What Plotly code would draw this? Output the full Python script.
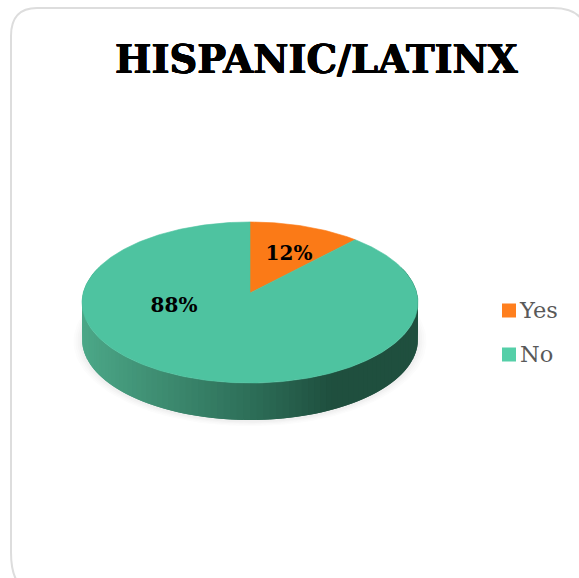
import numpy as np
import plotly.graph_objects as go

# Chart content
title = "HISPANIC/LATINX"
categories = ["Yes", "No"]
values = [12, 88]
labels = ["12%", "88%"]

# Colours
top_colors = ["#FB7A17", "#4EC3A0"]
legend_colors = ["#FF7F1E", "#55CFA8"]
wall_stops_x = [82, 160, 250, 330, 420]
wall_stops_rgb = [(76, 168, 136), (62, 140, 113), (45, 110, 88), (31, 79, 62), (31, 79, 62)]

# Pie geometry on a canvas whose axes run in screen units
CX, CY = 250.0, 293.0      # disc centre as seen in perspective
RX, RY = 166.8, 79.4       # projected radii before foreshortening
TILT = 0.118               # strength of the perspective foreshortening
DEPTH = 37.0               # height of the cylinder wall
LABEL_XY = [(289, 254.5), (174, 307)]
LEGEND_X = 509
LEGEND_Y = [310.5, 354.5]
LEGEND_TEXT_X = 520
LEGEND_TEXT_Y = [312, 356]
BOLD_STROKE = "0.5px 0 0 #000, -0.5px 0 0 #000, 0 0.4px 0 #000, 0 -0.4px 0 #000"


def project(theta, r=1.0, dy=0.0):
    """Map a polar position on the disc (clockwise from the far side) to the canvas."""
    u, v = r * np.sin(theta), r * np.cos(theta)
    w = 1 + TILT * v
    return CX + RX * u / w, CY - RY * v / w + dy


fig = go.Figure()


def add_poly(x, y, color, line_width=0.6):
    fig.add_trace(go.Scatter(
        x=list(x), y=list(y), mode="lines", fill="toself", fillcolor=color,
        line=dict(color=color, width=line_width), hoverinfo="skip", showlegend=False,
    ))


# Soft shadow beneath the cylinder
ring = np.linspace(0, 2 * np.pi, 181)
for grow, alpha in [(1.05, 0.015), (1.038, 0.02), (1.026, 0.025), (1.014, 0.03)]:
    sx, sy = project(ring, r=grow, dy=DEPTH + 1)
    add_poly(sx, sy, f"rgba(90,90,90,{alpha})", line_width=0)

# Cylinder wall, split into overlapping strips for the horizontal shading
wall_angles = np.radians(np.linspace(70, 290, 111))
for a0, a1 in zip(wall_angles[:-2], wall_angles[2:]):
    x0, y0 = project(a0)
    x1, y1 = project(a1)
    xb0, yb0 = project(a0, dy=DEPTH)
    xb1, yb1 = project(a1, dy=DEPTH)
    xm = (x0 + x1) / 2
    rgb = [int(np.interp(xm, wall_stops_x, [c[i] for c in wall_stops_rgb])) for i in range(3)]
    add_poly([x0, x1, xb1, xb0, x0], [y0, y1, yb1, yb0, y0], f"rgb({rgb[0]},{rgb[1]},{rgb[2]})", line_width=0)

# Top face: one wedge per category
start = 0.0
total = sum(values)
for value, color in zip(values, top_colors):
    end = start + 2 * np.pi * value / total
    t = np.linspace(start, end, max(int(value * 4), 8))
    ex, ey = project(t)
    add_poly(np.r_[CX, ex, CX], np.r_[CY, ey, CY], color)
    start = end

# Percentage labels
fig.add_trace(go.Scatter(
    x=[p[0] for p in LABEL_XY], y=[p[1] for p in LABEL_XY], mode="text", text=labels,
    textfont=dict(family="DejaVu Serif", size=20, color="#000000", weight="bold"),
    textposition="middle center", hoverinfo="skip", showlegend=False,
))

# Legend swatches and their names
fig.add_trace(go.Scatter(
    x=[LEGEND_X, LEGEND_X], y=LEGEND_Y, mode="markers",
    marker=dict(symbol="square", size=14, color=legend_colors, line=dict(width=0)),
    hoverinfo="skip", showlegend=False,
))
fig.add_trace(go.Scatter(
    x=[LEGEND_TEXT_X, LEGEND_TEXT_X], y=LEGEND_TEXT_Y, mode="text", text=categories,
    textposition="middle right",
    textfont=dict(family="DejaVu Serif", size=22.5, color="#595959"),
    hoverinfo="skip", showlegend=False,
))

# Title
fig.add_annotation(
    x=316, y=59.5, xref="x", yref="y", text=f"<b>{title}</b>", showarrow=False,
    font=dict(family="DejaVu Serif", size=38.5, color="#000000", shadow=BOLD_STROKE),
)

# Rounded card outline that runs past the right and bottom edges
fig.add_shape(
    type="path", xref="x", yref="y",
    path="M 37,8 L 553,8 Q 586,8 586,36 L 586,552 Q 586,592 553,592 "
         "L 37,592 Q 11,592 11,552 L 11,36 Q 11,8 37,8 Z",
    line=dict(color="#DDDDDD", width=2), fillcolor="rgba(0,0,0,0)",
)

fig.update_xaxes(range=[0, 579], visible=False, fixedrange=True)
fig.update_yaxes(range=[578, 0], visible=False, fixedrange=True)
fig.update_layout(
    width=579, height=578, autosize=False,
    margin=dict(l=0, r=0, t=0, b=0),
    paper_bgcolor="#FFFFFF", plot_bgcolor="#FFFFFF", showlegend=False,
)

fig.write_html("out.html")
